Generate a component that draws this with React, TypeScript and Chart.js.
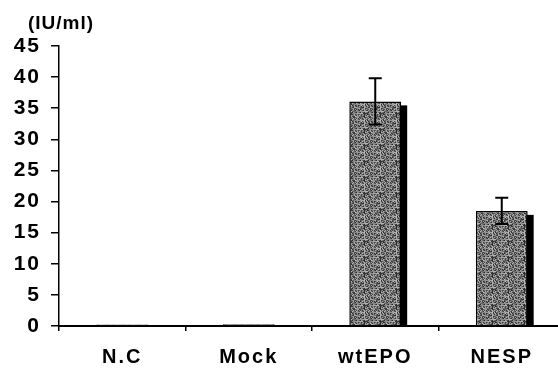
import React, { useEffect, useRef } from "react";
import { Chart, registerables } from "chart.js";

Chart.register(...registerables);

const categories = ["N.C", "Mock", "wtEPO", "NESP"];
const values = [0.25, 0.3, 36.1, 18.5];
const errors = [0, 0, 3.7, 2.1];
const yTicks = [0, 5, 10, 15, 20, 25, 30, 35, 40, 45];
const unitLabel = "(IU/ml)";

function makePattern(): CanvasPattern | string {
  const n = 16;
  const c = document.createElement("canvas");
  c.width = n;
  c.height = n;
  const g = c.getContext("2d");
  if (!g) return "#707070";
  for (let j = 0; j < n; j++) {
    for (let i = 0; i < n; i++) {
      const h = ((i * 73 + j * 151 + ((i * j) % 7) * 29) % 97) / 97;
      const v = Math.round(40 + h * 150);
      g.fillStyle = `rgb(${v},${v},${v})`;
      g.fillRect(i, j, 1, 1);
    }
  }
  const ctx2 = document.createElement("canvas").getContext("2d");
  return (ctx2 && ctx2.createPattern(c, "repeat")) || "#707070";
}

const shadowPlugin = {
  id: "barShadow",
  beforeDatasetsDraw(chart: any) {
    const ctx = chart.ctx;
    const meta = chart.getDatasetMeta(0);
    ctx.save();
    ctx.fillStyle = "#000";
    meta.data.forEach((el: any) => {
      const p = el.getProps(["x", "y", "base", "width"], true);
      const h = p.base - (p.y + 4);
      if (h > 0) ctx.fillRect(p.x - p.width / 2 + 6, p.y + 4, p.width, h);
    });
    ctx.restore();
  },
};

const errorPlugin = {
  id: "errorBars",
  afterDatasetsDraw(chart: any) {
    const ctx = chart.ctx;
    const meta = chart.getDatasetMeta(0);
    const ys = chart.scales.y;
    ctx.save();
    ctx.strokeStyle = "#000";
    ctx.lineWidth = 2;
    meta.data.forEach((el: any, i: number) => {
      const e = errors[i];
      if (!e) return;
      const x = el.x;
      const top = ys.getPixelForValue(values[i] + e);
      const bot = ys.getPixelForValue(values[i] - e);
      const cap = 6.5;
      ctx.beginPath();
      ctx.moveTo(x, top);
      ctx.lineTo(x, bot);
      ctx.moveTo(x - cap, top);
      ctx.lineTo(x + cap, top);
      ctx.moveTo(x - cap, bot);
      ctx.lineTo(x + cap, bot);
      ctx.stroke();
    });
    ctx.restore();
  },
};

const textPlugin = {
  id: "unitText",
  beforeDraw(chart: any) {
    chart.ctx.letterSpacing = "2px";
  },
  afterDraw(chart: any) {
    const ctx = chart.ctx;
    ctx.save();
    ctx.fillStyle = "#000";
    ctx.font = "bold 19px 'Liberation Sans', Arial, sans-serif";
    ctx.letterSpacing = "1px";
    ctx.textAlign = "center";
    ctx.textBaseline = "middle";
    ctx.fillText(unitLabel, 61, 24);
    ctx.restore();
  },
};

export default function App() {
  const ref = useRef<HTMLCanvasElement | null>(null);
  useEffect(() => {
    if (!ref.current) return;
    const chart = new Chart(ref.current, {
      type: "bar",
      data: {
        labels: categories,
        datasets: [
          {
            data: values,
            backgroundColor: makePattern() as any,
            borderColor: "#000",
            borderWidth: 1.5,
            barPercentage: 0.41,
            categoryPercentage: 1,
          },
        ],
      },
      options: {
        responsive: false,
        animation: false,
        devicePixelRatio: 1,
        layout: { padding: { top: 46, right: 3, left: 0, bottom: 0 } },
        plugins: {
          legend: { display: false },
          tooltip: { enabled: false },
          title: { display: false },
        },
        scales: {
          x: {
            grid: {
              display: true,
              drawOnChartArea: false,
              drawTicks: true,
              tickLength: 5,
              color: "#000",
              lineWidth: 1.5,
              offset: true,
            },
            border: { display: true, color: "#000", width: 2 },
            ticks: {
              color: "#000",
              padding: 14,
              font: { family: "'Liberation Sans', Arial, sans-serif", size: 20, weight: "bold" },
            },
            afterFit(scale: any) {
              scale.height = 42;
            },
          },
          y: {
            min: 0,
            max: 45,
            afterBuildTicks(scale: any) {
              scale.ticks = yTicks.map((v) => ({ value: v }));
            },
            grid: {
              display: true,
              drawOnChartArea: false,
              drawTicks: true,
              tickLength: 8,
              color: "#000",
              lineWidth: 1.5,
            },
            border: { display: true, color: "#000", width: 1.5 },
            ticks: {
              color: "#000",
              padding: 10,
              font: { family: "'Liberation Sans', Arial, sans-serif", size: 21, weight: "bold" },
            },
            afterFit(scale: any) {
              scale.width = 59;
            },
          },
        },
      },
      plugins: [shadowPlugin, errorPlugin, textPlugin],
    });
    return () => chart.destroy();
  }, []);
  return (
    <div
      style={{
        position: "absolute",
        left: 0,
        top: 0,
        width: 558,
        height: 368,
        overflow: "hidden",
        background: "#fff",
      }}
    >
      <canvas ref={ref} width={568} height={368} style={{ display: "block" }} />
    </div>
  );
}
